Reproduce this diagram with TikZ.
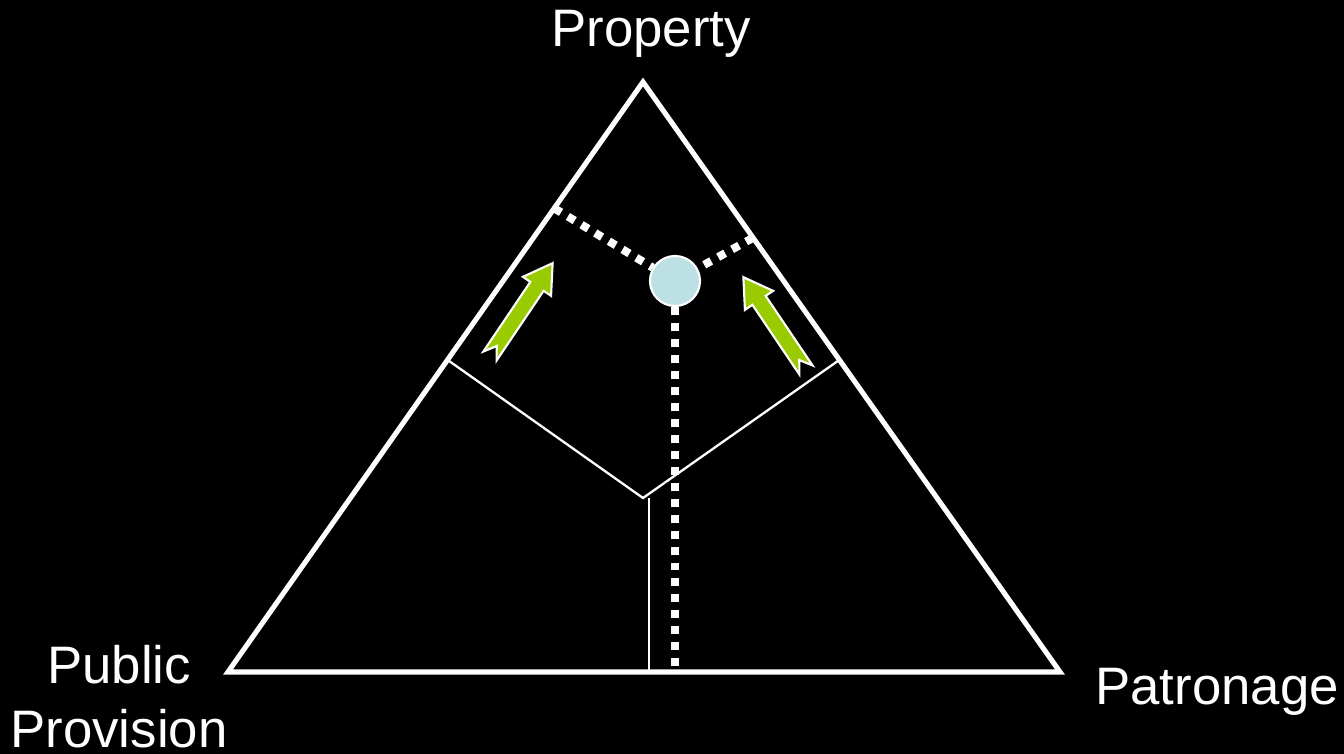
\documentclass[tikz,border=0pt]{standalone}
\usepackage{fontspec}
\setmainfont{Liberation Sans}
\usetikzlibrary{calc}
\definecolor{arrowgreen}{RGB}{153,204,0}
\definecolor{dotblue}{RGB}{189,224,228}
\tikzset{
    edge/.style={white,line width=1.45pt,line join=miter},
    divider/.style={white,line width=0.65pt},
    dotline/.style={white,line width=2.3pt,dash pattern=on 2.27pt off 2.27pt},
    label/.style={white,font=\fontsize{15}{18.4}\selectfont,inner sep=0pt},
    notcharrow/.pic={
        \filldraw[fill=arrowgreen,draw=white,line width=0.6pt]
            (0,8) -- (84,8) -- (84,17) -- (112,0) -- (84,-17)
            -- (84,-8) -- (0,-8) -- (12,0) -- cycle;
    }
}
\begin{document}
\begin{tikzpicture}[x=0.01cm,y=0.01cm]
        \fill[black] (0,0) rectangle (1344,754);
        \useasboundingbox (0,0) rectangle (1344,754);
        % corners of the triangle
        \coordinate (top) at (643,672);
        \coordinate (left) at (228,82);
        \coordinate (right) at (1060,82);
        \draw[edge] (left) -- (top) -- (right) -- cycle;
        % regions
        \coordinate (mid) at (643,256);
        \draw[divider] ($(left)!0.529!(top)$) -- (mid) -- ($(right)!0.529!(top)$);
        \draw[divider] (649,256) -- (649,82);
        % position
        \node[circle,fill=dotblue,draw=white,line width=0.6pt,minimum size=0.5cm,inner sep=0pt] (pos) at (675,473) {};
        \draw[dotline] ($(left)!0.786!(top)$) -- (pos);
        \draw[dotline] ($(right)!0.736!(top)$) -- (pos);
        \draw[dotline] (pos.south) -- (pos.south |- 0,86);
        % shifts
        \pic[rotate=56] at (490,398) {notcharrow};
        \pic[rotate=124] at (806,384) {notcharrow};
        \node[label,anchor=base] (prop) at (651,707) {Property};
        \node[label,anchor=base,align=center] (pub) at (119,6) {Public\\Provision};
        \node[label,anchor=base] (pat) at (1217,49) {Patronage};
    \end{tikzpicture}
\end{document}
